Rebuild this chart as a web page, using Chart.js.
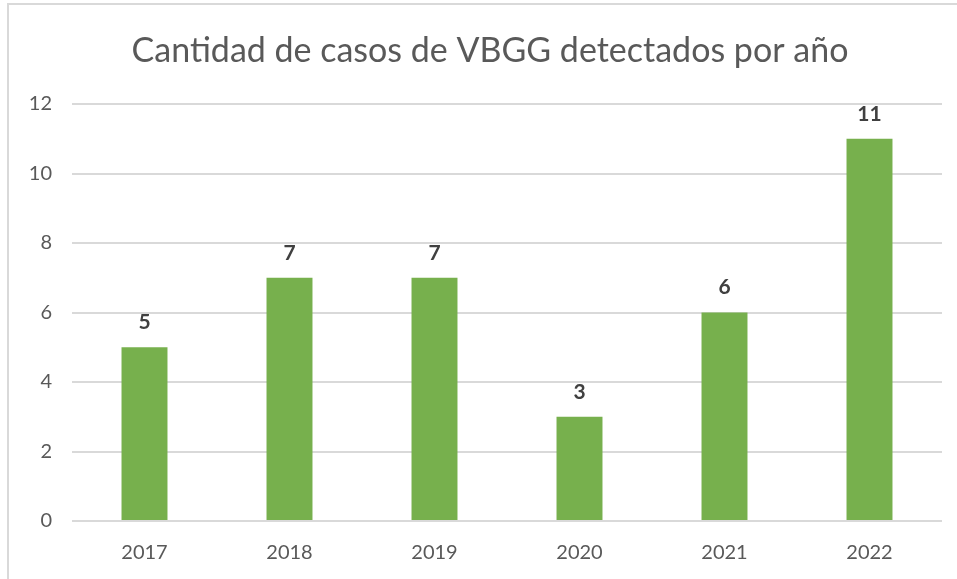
<!DOCTYPE html>
<html>
<head>
<meta charset="utf-8">
<script src="https://cdn.jsdelivr.net/npm/chart.js@4"></script>
<style>
  html, body { margin: 0; padding: 0; background: #fff; }
  #wrap { width: 957px; height: 579px; position: relative; }
</style>
</head>
<body>
<div id="wrap"><canvas id="chart" width="957" height="579"></canvas></div>
<script>
// datos del gráfico
const years = ['2017', '2018', '2019', '2020', '2021', '2022'];
const casos = [5, 7, 7, 3, 6, 11];
const yMin = 0;
const yMax = 12;
const yStep = 2;
const titulo = 'Cantidad de casos de VBGG detectados por año';

const fontFamily = 'Lato, "Open Sans", sans-serif';

// marco gris del gráfico + título (centrado sobre el marco, no sobre el área)
const framePlugin = {
    id: 'frame',
    beforeDraw(chart) {
        const ctx = chart.ctx;
        ctx.save();
        ctx.strokeStyle = '#d9d9d9';
        ctx.lineWidth = 2;
        ctx.beginPath();
        ctx.moveTo(8, 600);
        ctx.lineTo(8, 4);
        ctx.lineTo(1000, 4);
        ctx.stroke();

        ctx.font = '34px ' + fontFamily;
        ctx.fillStyle = '#595959';
        ctx.textAlign = 'center';
        ctx.textBaseline = 'middle';
        ctx.fillText(titulo, 490, 51);
        ctx.restore();
    }
};

// etiquetas de valor encima de cada barra
const valueLabels = {
    id: 'valueLabels',
    afterDatasetsDraw(chart) {
        const ctx = chart.ctx;
        const meta = chart.getDatasetMeta(0);
        ctx.save();
        ctx.font = 'bold 21px ' + fontFamily;
        ctx.fillStyle = '#404040';
        ctx.textAlign = 'center';
        ctx.textBaseline = 'middle';
        meta.data.forEach((bar, i) => {
            ctx.fillText(casos[i], bar.x, bar.y - 25);
        });
        ctx.restore();
    }
};

const chart = document.querySelector('#chart').getContext('2d');

new Chart(chart, {
    type: 'bar',
    data: {
        labels: years,
        datasets: [
        {
            label: 'Casos',
            data: casos,
            backgroundColor: '#77b04d',
            borderWidth: 0,
            barPercentage: 0.317,
            categoryPercentage: 1
        }
        ]
    },
    options: {
        responsive: false,
        animation: false,
        layout: {
            padding: { left: 0, right: 15, top: 104, bottom: 14 }
        },
        plugins: {
            legend: { display: false },
            tooltip: { enabled: false },
            title: { display: false }
        },
        scales: {
            x: {
                grid: { display: false, drawTicks: false },
                border: { display: false },
                ticks: {
                    color: '#595959',
                    font: { family: fontFamily, size: 20, lineHeight: 1.2 },
                    padding: 20
                },
                afterFit(scale) { scale.height = 44; }
            },
            y: {
                min: yMin,
                max: yMax,
                grid: { color: '#d9d9d9', lineWidth: 2, drawTicks: false },
                border: { display: false },
                ticks: {
                    stepSize: yStep,
                    color: '#595959',
                    font: { family: fontFamily, size: 20 },
                    padding: 20
                },
                afterFit(scale) { scale.width = 72; }
            }
        }
    },
    plugins: [framePlugin, valueLabels]
});
</script>
</body>
</html>
